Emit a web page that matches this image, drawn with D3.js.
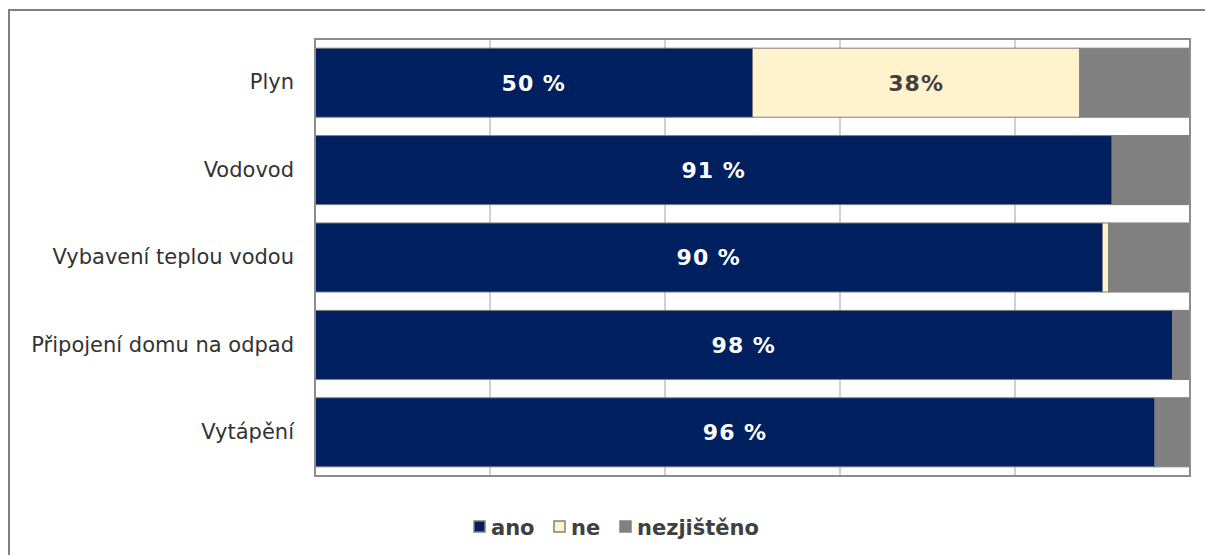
<!DOCTYPE html>
<html>
<head>
<meta charset="utf-8">
<script src="https://cdn.jsdelivr.net/npm/d3@7"></script>
<style>
  body { margin: 0; background: #ffffff; }
  svg { display: block; font-family: "DejaVu Sans", Verdana, sans-serif; }
</style>
</head>
<body>
<div id="chart"></div>
<script>
// Chart data
const categories = ["Plyn", "Vodovod", "Vybavení teplou vodou", "Připojení domu na odpad", "Vytápění"];
const ano = [50, 91.1, 90, 98, 96];
const ne = [37.4, 0, 0.7, 0, 0];
const nezjisteno = categories.map((c, i) => 100 - ano[i] - ne[i]);
const anoLabels = ["50 %", "91 %", "90 %", "98 %", "96 %"];
const neLabels = ["38%", "", "", "", ""];
const seriesNames = ["ano", "ne", "nezjištěno"];
const xTicks = [0, 20, 40, 60, 80, 100];

const colors = { "ano": "#002060", "ne": "#fff2cc", "nezjištěno": "#808080" };

const width = 1205, height = 555;
const plot = { left: 315, right: 1190, top: 39, bottom: 476 };

let svg = d3.select("#chart").append("svg")
    .attr("width", width)
    .attr("height", height);

// outer chart frame (runs off the right and bottom edges)
svg.append("rect")
    .attr("x", 9).attr("y", 10)
    .attr("width", 1210).attr("height", 560)
    .attr("fill", "#ffffff")
    .attr("stroke", "#808080")
    .attr("stroke-width", 2);

let x = d3.scaleLinear()
    .domain([0, 100])
    .range([plot.left, plot.right]);

let y = d3.scaleBand()
    .domain(categories)
    .range([plot.top, plot.bottom])
    .paddingInner(0.21)
    .paddingOuter(0.105);

// vertical gridlines
svg.append("g")
    .selectAll("line")
    .data(xTicks.slice(1, -1))
    .join("line")
    .attr("x1", d => x(d)).attr("x2", d => x(d))
    .attr("y1", plot.top).attr("y2", plot.bottom)
    .attr("stroke", "#d0d0d0")
    .attr("stroke-width", 2);

// Build the stacked rows
let rows = categories.map((c, i) => ({ cat: c, "ano": ano[i], "ne": ne[i], "nezjištěno": nezjisteno[i] }));
let stack = d3.stack().keys(seriesNames)(rows);

svg.append("g")
    .selectAll("g")
    .data(stack)
    .join("g")
    .attr("fill", d => colors[d.key])
    .selectAll("rect")
    .data(d => d.filter(s => s[1] - s[0] > 0))
    .join("rect")
    .attr("x", d => x(d[0]))
    .attr("y", d => y(d.data.cat))
    .attr("width", d => x(d[1]) - x(d[0]))
    .attr("height", y.bandwidth())
    .attr("stroke", "#7f7f7f")
    .attr("stroke-width", 1);

// plot area border
svg.append("rect")
    .attr("x", plot.left).attr("y", plot.top)
    .attr("width", plot.right - plot.left)
    .attr("height", plot.bottom - plot.top)
    .attr("fill", "none")
    .attr("stroke", "#8c8c8c")
    .attr("stroke-width", 2);

// category labels
let yAxis = d3.axisLeft(y).tickSize(0).tickPadding(21);
let yg = svg.append("g")
    .attr("transform", `translate(${plot.left},0)`)
    .call(yAxis);
yg.select(".domain").remove();
yg.selectAll("text")
    .style("font-size", "21px")
    .style("font-family", "DejaVu Sans, Verdana, sans-serif")
    .attr("fill", "#333333");

// value labels in the ano segments
svg.append("g")
    .selectAll("text")
    .data(categories)
    .join("text")
    .attr("x", (d, i) => x(ano[i] / 2))
    .attr("y", d => y(d) + y.bandwidth() / 2)
    .attr("dy", "0.36em")
    .attr("text-anchor", "middle")
    .attr("fill", "#ffffff")
    .style("font-size", "22px")
    .style("letter-spacing", "1px")
    .style("font-weight", "bold")
    .text((d, i) => anoLabels[i]);

// value labels in the ne segments
svg.append("g")
    .selectAll("text")
    .data(categories.filter((d, i) => neLabels[i] !== ""))
    .join("text")
    .attr("x", d => { let i = categories.indexOf(d); return x(ano[i] + ne[i] / 2); })
    .attr("y", d => y(d) + y.bandwidth() / 2)
    .attr("dy", "0.36em")
    .attr("text-anchor", "middle")
    .attr("fill", "#404040")
    .style("font-size", "22px")
    .style("letter-spacing", "1px")
    .style("font-weight", "bold")
    .text(d => neLabels[categories.indexOf(d)]);

// legend
const legendX = [474, 554, 620];
let legend = svg.append("g")
    .selectAll("g")
    .data(seriesNames)
    .join("g")
    .attr("transform", (d, i) => `translate(${legendX[i]},527)`);
legend.append("rect")
    .attr("x", 0).attr("y", -6)
    .attr("width", 11).attr("height", 11)
    .attr("fill", d => colors[d])
    .attr("stroke", "#808080")
    .attr("stroke-width", 1.5);
legend.append("text")
    .attr("x", 17)
    .attr("y", 0)
    .attr("dy", "0.36em")
    .attr("fill", "#404040")
    .style("font-size", "21px")
    .style("font-weight", "bold")
    .text(d => d);
</script>
</body>
</html>
